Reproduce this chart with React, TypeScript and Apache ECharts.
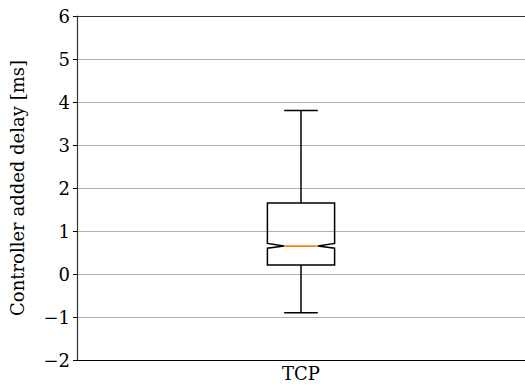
import React, { useEffect, useRef } from "react";
import * as echarts from "echarts";

const categories = ["TCP"];
// [whiskerLow, q1, notchLow, median, notchHigh, q3, whiskerHigh]
const boxStats = [[-0.9, 0.21, 0.6, 0.65, 0.71, 1.65, 3.8]];
const yTicks = { min: -2, max: 6, interval: 1 };
const yLabel = "Controller added delay [ms]";

const FONT = "DejaVu Serif";

export default function App() {
  const ref = useRef<HTMLDivElement>(null);
  useEffect(() => {
    const chart = echarts.init(ref.current!, null, { renderer: "svg" });
    const data = boxStats.map((s, i) => [i, ...s]);
    chart.setOption({
      animation: false,
      grid: { left: 71, right: -10, top: 16, bottom: 25, containLabel: false },
      xAxis: [
        {
          type: "category",
          data: categories,
          axisLine: { onZero: false, lineStyle: { color: "#000", width: 1.2 } },
          axisTick: { alignWithLabel: true, length: 4, lineStyle: { color: "#000" } },
          axisLabel: { fontFamily: FONT, fontSize: 18, color: "#000", margin: 4 },
        },
        {
          type: "category",
          position: "top",
          data: categories,
          axisLine: { onZero: false, lineStyle: { color: "#333", width: 1.2 } },
          axisTick: { show: false },
          axisLabel: { show: false },
        },
      ],
      yAxis: {
        type: "value",
        min: yTicks.min,
        max: yTicks.max,
        interval: yTicks.interval,
        name: yLabel,
        nameLocation: "middle",
        nameGap: 51,
        nameTextStyle: { fontFamily: FONT, fontSize: 18, color: "#000" },
        axisLine: { show: true, onZero: false, lineStyle: { color: "#333", width: 1.2 } },
        axisTick: { show: true, length: 4, lineStyle: { color: "#000" } },
        axisLabel: {
          fontFamily: FONT,
          fontSize: 18,
          color: "#000",
          margin: 7,
          formatter: (v: number) => String(v).replace("-", "\u2212"),
        },
        splitLine: { show: true, lineStyle: { color: "#b0b0b0", width: 1 } },
      },
      series: [
        {
          type: "custom",
          data,
          renderItem: (params: any, api: any) => {
            const x = api.value(0);
            const vals = [1, 2, 3, 4, 5, 6, 7].map((k) => api.value(k));
            const [wLo, q1, nLo, med, nHi, q3, wHi] = vals;
            const band = api.size([1, 0])[0];
            const half = band * 0.075;
            const cx = api.coord([x, 0])[0];
            const y = (v: number) => api.coord([x, v])[1];
            const L = cx - half;
            const R = cx + half;
            const nL = cx - half / 2;
            const nR = cx + half / 2;
            const stroke = { stroke: "#000", lineWidth: 1.5, fill: "none" };
            return {
              type: "group",
              children: [
                {
                  type: "polygon",
                  shape: {
                    points: [
                      [L, y(q1)],
                      [R, y(q1)],
                      [R, y(nLo)],
                      [nR, y(med)],
                      [R, y(nHi)],
                      [R, y(q3)],
                      [L, y(q3)],
                      [L, y(nHi)],
                      [nL, y(med)],
                      [L, y(nLo)],
                    ],
                  },
                  style: stroke,
                },
                { type: "line", shape: { x1: cx, y1: y(q1), x2: cx, y2: y(wLo) }, style: stroke },
                { type: "line", shape: { x1: cx, y1: y(q3), x2: cx, y2: y(wHi) }, style: stroke },
                { type: "line", shape: { x1: nL, y1: y(wLo), x2: nR, y2: y(wLo) }, style: stroke },
                { type: "line", shape: { x1: nL, y1: y(wHi), x2: nR, y2: y(wHi) }, style: stroke },
                {
                  type: "line",
                  shape: { x1: nL, y1: y(med), x2: nR, y2: y(med) },
                  style: { stroke: "#ff7f0e", lineWidth: 1.8 },
                },
              ],
            };
          },
        },
      ],
    });
    return () => chart.dispose();
  }, []);
  return (
    <div
      ref={ref}
      style={{ position: "fixed", left: 0, top: 0, width: 525, height: 385, background: "#fff" }}
    />
  );
}
